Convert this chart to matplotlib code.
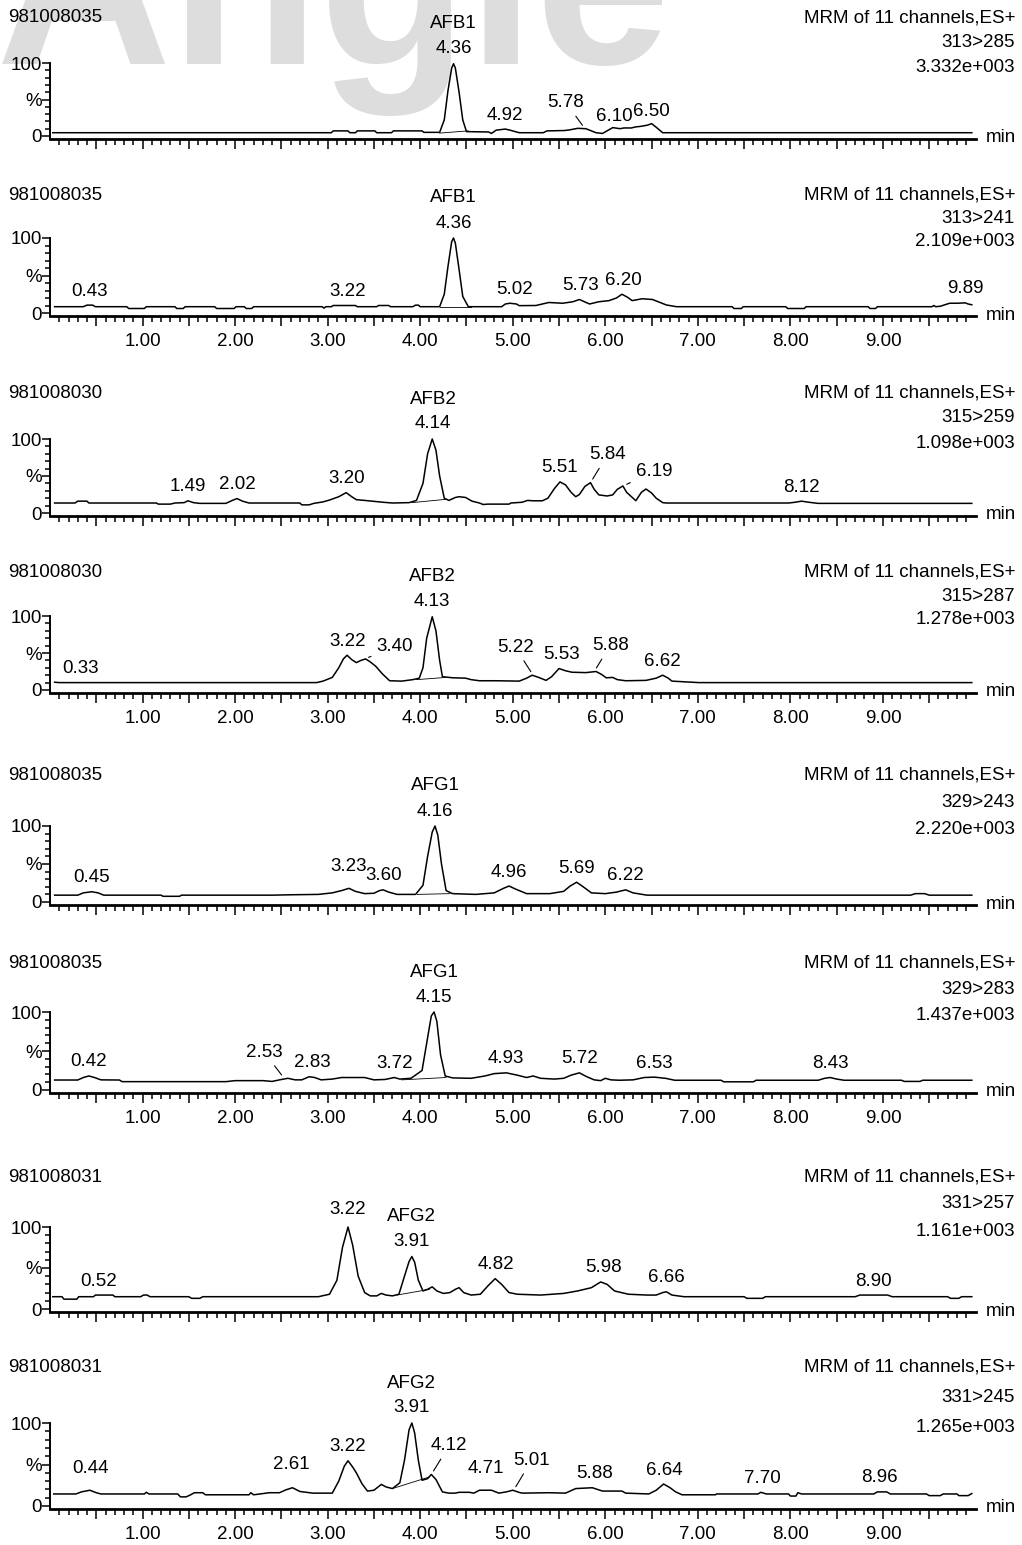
import numpy as np
import matplotlib
matplotlib.use("Agg")
import matplotlib.pyplot as plt
from matplotlib.ticker import FixedLocator, MultipleLocator

plt.rcParams['font.family'] = ['Liberation Sans', 'DejaVu Sans']

# naglowki paneli
sample_ids = ['981008035', '981008035', '981008030', '981008030',
              '981008035', '981008035', '981008031', '981008031']
transitions = ['313>285', '313>241', '315>259', '315>287',
               '329>243', '329>283', '331>257', '331>245']
max_counts = ['3.332e+003', '2.109e+003', '1.098e+003', '1.278e+003',
              '2.220e+003', '1.437e+003', '1.161e+003', '1.265e+003']
compounds = ['AFB1', 'AFB1', 'AFB2', 'AFB2', 'AFG1', 'AFG1', 'AFG2', 'AFG2']
main_rt = [4.36, 4.36, 4.14, 4.13, 4.16, 4.15, 3.91, 3.91]

# chromatogramy: (czas [min], intensywnosc [%])
trace_1 = [(0.03, 4.5), (3.04, 4.5), (3.06, 7), (3.22, 7), (3.24, 4.5), (3.30, 4.5), (3.32, 7),
           (3.51, 7), (3.53, 4.5), (3.69, 4.5), (3.71, 7), (4.02, 7), (4.04, 5), (4.21, 5),
           (4.26, 22), (4.30, 62), (4.34, 93), (4.36, 99), (4.38, 93), (4.42, 60), (4.46, 22),
           (4.50, 6), (4.74, 5.5), (4.77, 3.5), (4.82, 8), (4.92, 9.5), (4.97, 8), (5.07, 4.5),
           (5.33, 4.5), (5.37, 7), (5.56, 7.5), (5.62, 8.5), (5.70, 10.5), (5.79, 10),
           (5.90, 4.5), (5.97, 3.5), (6.08, 11.5), (6.16, 10), (6.20, 11), (6.28, 11),
           (6.33, 12.5), (6.37, 13), (6.42, 14), (6.46, 15), (6.50, 17), (6.55, 12),
           (6.62, 4.5), (9.96, 4.5)]
trace_2 = [(0.05, 8.4), (0.36, 8.4), (0.40, 10.5), (0.46, 10.5), (0.49, 8.4), (0.83, 8.4),
           (0.85, 6), (1.02, 6), (1.04, 8.4), (1.35, 8.4), (1.37, 6), (1.44, 6), (1.46, 8.4),
           (1.78, 8.4), (1.80, 6), (1.99, 6), (2.01, 8.4), (2.10, 8.4), (2.12, 6), (2.18, 6),
           (2.20, 8.4), (2.94, 8.4), (2.96, 6.5), (2.98, 8.4), (3.04, 8.4), (3.06, 10),
           (3.30, 10), (3.32, 8.4), (3.53, 8.4), (3.55, 10), (3.66, 10), (3.68, 8.4),
           (3.92, 8.4), (3.95, 10.5), (3.98, 10.5), (4.00, 8.4), (4.21, 8.4), (4.26, 25),
           (4.30, 62), (4.34, 95), (4.36, 100), (4.38, 93), (4.42, 58), (4.46, 22),
           (4.52, 8.4), (4.88, 8.4), (4.92, 12), (4.97, 13), (5.04, 12), (5.07, 9.8),
           (5.25, 10), (5.39, 14), (5.54, 13), (5.65, 15), (5.72, 18), (5.83, 12), (5.93, 15),
           (6.04, 16.5), (6.12, 20), (6.18, 25), (6.24, 21), (6.29, 16.5), (6.40, 19),
           (6.51, 18), (6.66, 10.7), (6.77, 8.4), (7.37, 8.4), (7.39, 6), (7.47, 6),
           (7.49, 8.4), (7.95, 8.4), (7.97, 6), (8.15, 6), (8.17, 8.4), (8.84, 8.4), (8.86, 6),
           (8.92, 6), (8.94, 8.4), (9.53, 8.4), (9.55, 10), (9.57, 8.4), (9.62, 9), (9.72, 13),
           (9.80, 13), (9.89, 13.5), (9.92, 12), (9.96, 11)]
trace_3 = [(0.05, 13.5), (0.27, 13.5), (0.30, 16), (0.40, 16), (0.42, 13.5), (1.15, 13.5),
           (1.17, 12), (1.30, 12), (1.35, 13.5), (1.45, 14), (1.49, 16.5), (1.55, 14),
           (1.62, 13), (1.90, 13), (1.97, 17), (2.02, 19.5), (2.08, 16), (2.15, 13.5),
           (2.70, 13.5), (2.72, 11), (2.80, 11), (2.85, 13), (2.95, 15), (3.02, 17.5),
           (3.12, 22), (3.20, 27.5), (3.26, 22), (3.31, 18), (3.40, 17), (3.48, 16),
           (3.60, 14.5), (3.70, 13.5), (3.88, 14), (3.96, 17), (4.03, 40), (4.08, 80),
           (4.13, 100), (4.17, 85), (4.21, 50), (4.26, 20), (4.31, 17), (4.38, 21), (4.42, 22),
           (4.49, 21), (4.56, 16), (4.64, 13.5), (4.68, 11.5), (4.73, 12), (4.96, 12),
           (4.98, 13.5), (5.10, 14.5), (5.16, 17), (5.22, 16.5), (5.32, 16.5), (5.38, 20),
           (5.45, 33), (5.51, 42), (5.57, 38), (5.63, 28), (5.68, 22), (5.72, 25), (5.78, 36),
           (5.84, 41), (5.88, 32), (5.93, 24.5), (6.02, 23), (6.08, 24.5), (6.13, 32),
           (6.19, 36.5), (6.23, 28), (6.33, 16.6), (6.39, 28), (6.44, 32.4), (6.50, 27),
           (6.55, 20), (6.62, 14), (6.66, 13.5), (7.98, 13.5), (8.05, 14.5), (8.12, 16),
           (8.20, 14.5), (8.30, 13), (9.96, 13)]
trace_4 = [(0.05, 10.5), (0.10, 10), (2.88, 10), (2.95, 12), (3.05, 17), (3.12, 30), (3.17, 42),
           (3.21, 47), (3.26, 41), (3.31, 37), (3.36, 40), (3.41, 42), (3.46, 38), (3.52, 32),
           (3.59, 22), (3.67, 12.5), (3.80, 12), (3.92, 14), (3.99, 16), (4.03, 30), (4.07, 70),
           (4.13, 99), (4.17, 80), (4.21, 40), (4.24, 18), (4.35, 16.5), (4.49, 16), (4.55, 14),
           (4.64, 12.5), (4.82, 12.5), (5.07, 12), (5.15, 16), (5.21, 20), (5.28, 17),
           (5.36, 13), (5.42, 18), (5.50, 29), (5.57, 26), (5.64, 24), (5.79, 23.5), (5.90, 25),
           (5.96, 21), (6.01, 16.5), (6.08, 17), (6.13, 14), (6.22, 12.5), (6.44, 13),
           (6.55, 16), (6.62, 20), (6.68, 16), (6.72, 12), (7.01, 10), (9.96, 10)]
trace_5 = [(0.05, 9), (0.30, 9), (0.36, 12), (0.45, 13.5), (0.52, 12), (0.58, 9), (1.20, 9),
           (1.22, 7.5), (1.40, 7.5), (1.42, 9), (2.40, 9), (2.60, 9.5), (2.90, 10), (3.05, 12),
           (3.15, 15), (3.23, 18), (3.30, 14), (3.40, 11), (3.50, 11.5), (3.56, 15), (3.60, 16),
           (3.66, 13), (3.75, 10), (3.95, 10), (4.03, 22), (4.08, 60), (4.13, 92), (4.16, 100),
           (4.19, 88), (4.23, 50), (4.28, 15), (4.35, 11), (4.60, 10), (4.80, 12), (4.90, 18),
           (4.96, 21), (5.03, 17), (5.15, 11), (5.40, 11), (5.55, 14), (5.62, 21), (5.69, 26),
           (5.75, 21), (5.85, 12), (6.00, 11), (6.12, 13), (6.22, 16), (6.30, 12), (6.45, 9),
           (9.30, 9), (9.35, 11), (9.45, 11), (9.50, 9), (9.96, 9)]
trace_6 = [(0.05, 12.8), (0.30, 12.8), (0.36, 16), (0.42, 18), (0.48, 16), (0.55, 13),
           (0.75, 12.8), (0.78, 10.7), (1.90, 10.7), (2.00, 12), (2.30, 12), (2.40, 11),
           (2.48, 13), (2.57, 15), (2.65, 13), (2.72, 13), (2.80, 17), (2.86, 16), (2.93, 13),
           (3.05, 14), (3.15, 16), (3.40, 16), (3.50, 13), (3.62, 13.5), (3.68, 15), (3.72, 16),
           (3.78, 14), (3.90, 15), (4.02, 25), (4.07, 60), (4.12, 95), (4.15, 100), (4.18, 88),
           (4.22, 45), (4.27, 18), (4.35, 15.5), (4.55, 15), (4.70, 18), (4.80, 21), (4.93, 22),
           (5.05, 19), (5.15, 16), (5.22, 18), (5.30, 15), (5.45, 14), (5.55, 15), (5.63, 19),
           (5.72, 22), (5.80, 17), (5.88, 13), (5.95, 12), (6.00, 15), (6.06, 13), (6.15, 12.5),
           (6.30, 13), (6.42, 16), (6.53, 16.5), (6.65, 15), (6.75, 12.5), (7.25, 12.5),
           (7.28, 10.5), (7.60, 10.5), (7.63, 12.5), (8.30, 12.5), (8.37, 15), (8.43, 16),
           (8.50, 14), (8.58, 12.5), (9.20, 12.5), (9.23, 11), (9.40, 11), (9.43, 12.5),
           (9.96, 12.5)]
trace_7 = [(0.03, 15), (0.13, 15), (0.15, 12), (0.29, 12), (0.31, 15), (0.47, 15), (0.49, 17),
           (0.68, 17), (0.70, 15), (0.98, 15), (1.01, 17), (1.05, 17), (1.08, 15), (1.50, 15),
           (1.53, 13), (1.62, 13), (1.65, 15), (2.90, 15), (3.02, 18), (3.10, 35), (3.16, 75),
           (3.22, 100), (3.27, 78), (3.33, 40), (3.40, 20), (3.46, 16), (3.53, 16), (3.58, 19),
           (3.63, 17), (3.70, 16), (3.77, 18), (3.83, 40), (3.88, 58), (3.91, 64), (3.94, 57),
           (3.98, 35), (4.03, 22), (4.08, 24), (4.13, 27), (4.18, 22), (4.25, 19), (4.32, 20),
           (4.38, 24), (4.42, 26), (4.47, 20), (4.55, 17), (4.65, 18), (4.73, 28), (4.81, 37),
           (4.88, 30), (4.96, 20), (5.05, 18), (5.30, 17), (5.55, 19), (5.70, 22), (5.85, 26),
           (5.95, 33), (6.02, 30), (6.10, 22), (6.25, 18), (6.45, 17), (6.55, 17), (6.62, 20),
           (6.66, 21), (6.72, 17), (6.85, 15), (7.50, 15), (7.53, 13), (7.70, 13), (7.73, 15),
           (8.70, 15), (8.75, 17), (9.05, 17), (9.10, 15), (9.70, 15), (9.73, 13), (9.82, 13),
           (9.85, 15), (9.96, 15)]
trace_8 = [(0.04, 14.5), (0.28, 14.5), (0.34, 17), (0.43, 19), (0.50, 16), (0.55, 14.5),
           (1.02, 14.5), (1.04, 16.5), (1.07, 14.5), (1.38, 14.5), (1.41, 11), (1.47, 11),
           (1.52, 13.5), (1.56, 16), (1.65, 16), (1.68, 13.5), (2.15, 13.5), (2.17, 16),
           (2.20, 13.5), (2.37, 16), (2.48, 16), (2.55, 19.5), (2.62, 22), (2.70, 17.5),
           (2.84, 15.5), (3.05, 15.5), (3.12, 30), (3.18, 48), (3.22, 54.5), (3.27, 47),
           (3.31, 40), (3.37, 27), (3.43, 18), (3.50, 19), (3.58, 26), (3.63, 23), (3.70, 21),
           (3.78, 28), (3.83, 55), (3.88, 92), (3.91, 100), (3.94, 88), (3.98, 55), (4.02, 31),
           (4.08, 33), (4.12, 38), (4.17, 32), (4.24, 17), (4.31, 15.5), (4.38, 15.5),
           (4.42, 16.5), (4.53, 16.5), (4.58, 15.5), (4.64, 19), (4.77, 19), (4.85, 15.5),
           (4.93, 17), (5.00, 19), (5.08, 16), (5.11, 15.5), (5.39, 16), (5.57, 15.5),
           (5.68, 21), (5.86, 22), (5.97, 18), (6.18, 18), (6.22, 15.5), (6.47, 14.5),
           (6.55, 19), (6.63, 26.5), (6.70, 22), (6.76, 17), (6.83, 13.5), (7.19, 13.5),
           (7.20, 14.5), (7.65, 14.5), (7.68, 16.5), (7.74, 14.5), (7.98, 14.5), (8.00, 12),
           (8.06, 12), (8.08, 16), (8.12, 14.5), (8.90, 14.5), (8.94, 17), (9.04, 17),
           (9.08, 14.5), (9.47, 14.5), (9.50, 12.5), (9.62, 12.5), (9.65, 14.5), (9.80, 14.5),
           (9.82, 12.5), (9.92, 12.5), (9.96, 15)]
traces = [trace_1, trace_2, trace_3, trace_4, trace_5, trace_6, trace_7, trace_8]

# linia bazowa integracji glownego piku: (t1, y1, t2, y2)
integration = [(4.21, 4, 4.52, 7), (4.21, 8.4, 4.55, 8.4), (3.91, 14, 4.28, 18.5),
               (3.96, 14, 4.28, 17), (3.97, 10, 4.32, 11), (3.80, 13, 4.28, 16),
               (3.75, 17, 4.10, 24), (3.70, 21, 4.10, 35)]

# opisane piki (czasy retencji)
peaks = [
    [4.92, 5.78, 6.10, 6.50],
    [0.43, 3.22, 5.02, 5.73, 6.20, 9.89],
    [1.49, 2.02, 3.20, 5.51, 5.84, 6.19, 8.12],
    [0.33, 3.22, 3.40, 5.22, 5.53, 5.88, 6.62],
    [0.45, 3.23, 3.60, 4.96, 5.69, 6.22],
    [0.42, 2.53, 2.83, 3.72, 4.93, 5.72, 6.53, 8.43],
    [0.52, 3.22, 4.82, 5.98, 6.66, 8.90],
    [0.44, 2.61, 3.22, 4.12, 4.71, 5.01, 5.88, 6.64, 7.70, 8.96],
]

# --- uklad (piksele obrazka 1022x1545) ---
W, H = 1022, 1545
X0, X1 = 50, 975.5
title_y = [18, 195, 393, 572, 775, 963, 1177, 1367]
top_y = [63, 238, 439, 616, 826, 1012, 1227, 1423]
zero_y = [136, 313, 513, 690, 902, 1090, 1309, 1506]
with_labels = [False, True, False, True, False, True, False, True]
FS = 13.5

# przesuniecia etykiet (dx, dy w px, kreska)
shift = {
    (0, 5.78): (-19, 26, True), (0, 6.10): (0, 11, False), (0, 6.50): (0, 12, False),
    (2, 5.84): (17, 28, True), (2, 6.19): (31, 14, True),
    (3, 3.40): (30, 12, True), (3, 5.22): (-18, 28, True), (3, 5.88): (16, 26, True),
    (4, 3.23): (0, 22, False),
    (5, 2.53): (-20, 26, True),
    (6, 3.22): (0, 17, False),
    (7, 0.44): (0, 22, False), (7, 2.61): (0, 23, False), (7, 4.71): (0, 22, False),
    (7, 4.12): (18, 29, True), (7, 5.01): (18, 30, True),
}


def apex(t, y, rt):
    m = np.abs(t - rt) <= 0.05
    return y[m].max() if m.any() else np.interp(rt, t, y)


fig = plt.figure(figsize=(W / 100, H / 100), dpi=100)

# znak wodny
fig.text(-4 / W, 1 - 64 / H, 'Angle', fontsize=175, fontweight='bold', color='#dddddd',
         ha='left', va='baseline', zorder=-5)

major_x = np.arange(1, 20) * 0.5
minor_x = [v / 10 for v in range(1, 100) if v % 5 != 0]

for i in range(8):
    y100, y0 = top_y[i], zero_y[i]
    pp = (y0 - y100) / 100.0
    bottom = y0 + 3
    ax = fig.add_axes([X0 / W, 1 - bottom / H, (X1 - X0) / W, (bottom - y100) / H])
    ax.patch.set_visible(False)
    ax.set_xlim(0, 10)
    ax.set_ylim(-3 / pp, 100)

    t, y = np.array(traces[i]).T
    ax.plot(t, y, color='black', lw=1.1, clip_on=False)
    a1, b1, a2, b2 = integration[i]
    ax.plot([a1, a2], [b1, b2], color='black', lw=0.6)

    for s in ['top', 'right']:
        ax.spines[s].set_visible(False)
    ax.spines['bottom'].set_linewidth(2.0)
    ax.spines['left'].set_linewidth(1.4)

    ax.xaxis.set_major_locator(FixedLocator(major_x))
    ax.xaxis.set_minor_locator(FixedLocator(minor_x))
    if with_labels[i]:
        ax.set_xticklabels(['%.2f' % v if v == int(v) else '' for v in major_x])
    else:
        ax.set_xticklabels([])
    ax.tick_params(axis='x', which='major', length=7, width=1.1, pad=5, labelsize=FS)
    ax.tick_params(axis='x', which='minor', length=4.3, width=1.1)

    ax.set_yticks([0, 50, 100])
    ax.set_yticklabels(['0', '%', '100'])
    ax.yaxis.set_minor_locator(MultipleLocator(10))
    ax.tick_params(axis='y', which='major', length=5.5, width=1.1, pad=0.5, labelsize=FS)
    ax.tick_params(axis='y', which='minor', length=3.5, width=1.1)

    # glowny pik
    rt = main_rt[i]
    ya = apex(t, y, rt)
    ax.annotate('%.2f' % rt, (rt, ya), xytext=(0, 15), textcoords='offset pixels',
                ha='center', va='center', fontsize=FS)
    ax.annotate(compounds[i], (rt, ya), xytext=(0, 40), textcoords='offset pixels',
                ha='center', va='center', fontsize=FS)

    for p in peaks[i]:
        ya = apex(t, y, p)
        dx, dy, leader = shift.get((i, p), (0, 14, False))
        props = None
        if leader:
            props = dict(arrowstyle='-', lw=0.8, color='black', shrinkA=2, shrinkB=3)
        ax.annotate('%.2f' % p, (p, ya), xytext=(dx, dy), textcoords='offset pixels',
                    ha='center', va='center', fontsize=FS, arrowprops=props)

    # naglowki
    fig.text(8 / W, 1 - title_y[i] / H, sample_ids[i], ha='left', va='center', fontsize=FS)
    line3 = y100 + 4
    fig.text(1015 / W, 1 - title_y[i] / H, 'MRM of 11 channels,ES+', ha='right',
             va='center', fontsize=FS)
    fig.text(1015 / W, 1 - (title_y[i] + line3) / 2 / H, transitions[i], ha='right',
             va='center', fontsize=FS)
    fig.text(1015 / W, 1 - line3 / H, max_counts[i], ha='right', va='center', fontsize=FS)
    fig.text(986 / W, 1 - (bottom - 1) / H, 'min', ha='left', va='center', fontsize=FS)

fig.savefig('out.png', dpi=100)
